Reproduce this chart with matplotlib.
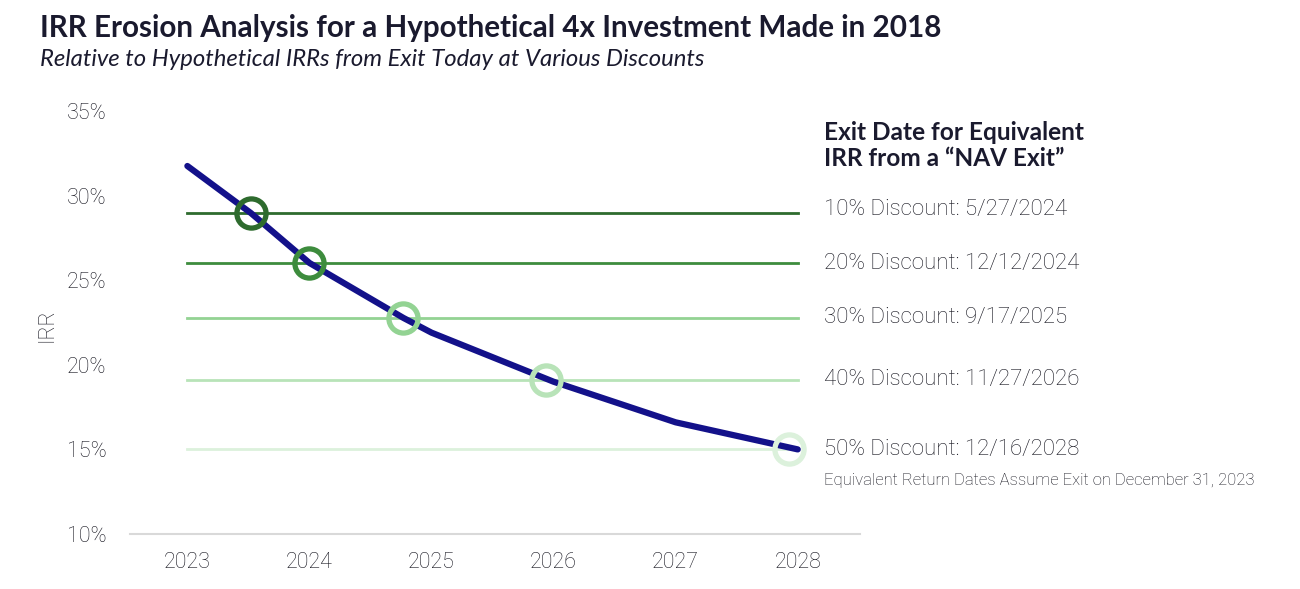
import matplotlib.pyplot as plt

# IRR curve
years = [2023.0, 2023.52, 2024.0, 2024.77, 2025.0, 2026.0, 2027.0, 2028.0]
irr = [31.75, 28.97, 26.02, 22.77, 21.9, 19.0, 16.6, 15.0]

# discount levels and crossing points
discount_irr = [28.97, 26.02, 22.77, 19.1, 15.0]
discount_x = [2023.52, 2024.0, 2024.77, 2025.94, 2027.93]
discount_labels = ['10% Discount: 5/27/2024', '20% Discount: 12/12/2024',
                   '30% Discount: 9/17/2025', '40% Discount: 11/27/2026',
                   '50% Discount: 12/16/2028']
discount_colors = ['#2e6b2e', '#3d8c3d', '#93d393', '#b8e3b8', '#dcf1dc']
label_y = [209, 264, 317, 380, 449]  # pixel rows of the side labels

tick_years = [2023, 2024, 2025, 2026, 2027, 2028]
yticks = [10, 15, 20, 25, 30, 35]

LIGHT = 'Roboto'
TXT = '#15151f'
W, H = 1300, 589
fig = plt.figure(figsize=(13, 5.89), dpi=100)
ax = fig.add_axes([130 / W, 1 - 534 / H, 730 / W, (534 - 111) / H])

for lvl, c in zip(discount_irr, discount_colors):
    ax.plot([tick_years[0], tick_years[-1]], [lvl, lvl], color=c, lw=2, zorder=1)

ax.plot(years, irr, color='#13118a', lw=4.5, solid_capstyle='round', zorder=2)

for x, y, c in zip(discount_x, discount_irr, discount_colors):
    ax.plot(x, y, 'o', ms=21, mfc='none', mec=c, mew=3.8, zorder=3)

ax.set_xlim(2022.53, 2028.51)
ax.set_ylim(10, 35)
ax.set_xticks(tick_years)
ax.set_yticks(yticks)
ax.set_yticklabels([f'{v}%' for v in yticks])
for s in ['top', 'right', 'left']:
    ax.spines[s].set_visible(False)
ax.spines['bottom'].set_color('#d9d9d9')
ax.spines['bottom'].set_linewidth(1.5)
ax.tick_params(length=0, labelsize=15.5, labelcolor=TXT)
ax.tick_params(axis='x', pad=13)
ax.tick_params(axis='y', pad=17)
for lab in ax.get_xticklabels() + ax.get_yticklabels():
    lab.set_fontfamily(LIGHT)
    lab.set_fontweight('light')

fig.text(47 / W, 1 - 325 / H, 'IRR', family=LIGHT, weight='light', fontsize=15.5,
         color=TXT, rotation=90, ha='center', va='center')

fig.text(40 / W, 1 - 28 / H, 'IRR Erosion Analysis for a Hypothetical 4x Investment Made in 2018',
         family='Lato', weight='bold', fontsize=21.3, color='#1a1a2e', va='center')
fig.text(40 / W, 1 - 60 / H, 'Relative to Hypothetical IRRs from Exit Today at Various Discounts',
         family='Lato', style='italic', fontsize=17.2, color='#1a1a2e', va='center')

fig.text(824 / W, 1 - 132 / H, 'Exit Date for Equivalent', family='Lato', weight='bold',
         fontsize=17.6, color='#1a1a2e', va='center')
fig.text(824 / W, 1 - 158 / H, 'IRR from a \u201cNAV Exit\u201d', family='Lato', weight='bold',
         fontsize=17.6, color='#1a1a2e', va='center')
for ly, txt in zip(label_y, discount_labels):
    fig.text(824 / W, 1 - ly / H, txt, family=LIGHT, weight='light', fontsize=16,
             color=TXT, va='center')
fig.text(824 / W, 1 - 480 / H, 'Equivalent Return Dates Assume Exit on December 31, 2023',
         family=LIGHT, weight='light', fontsize=12, color=TXT, va='center')

fig.savefig('out.png', dpi=100)
